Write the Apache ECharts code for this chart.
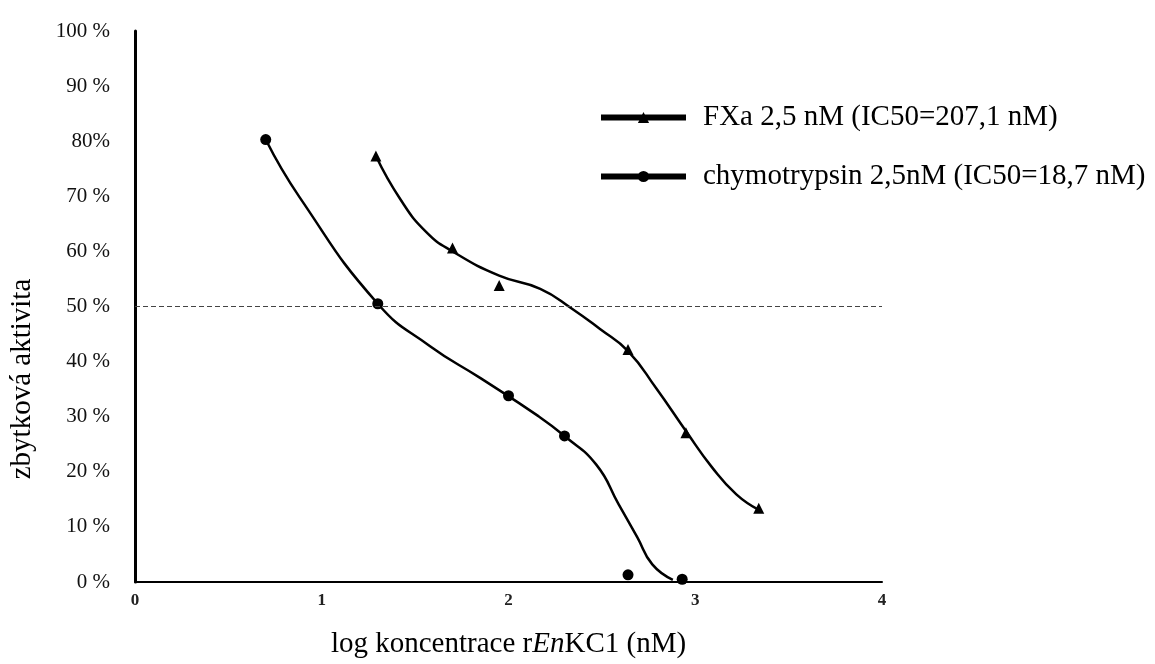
<!DOCTYPE html>
<html>
<head>
<meta charset="utf-8">
<script src="https://cdn.jsdelivr.net/npm/echarts@6/dist/echarts.min.js"></script>
<style>
  html, body { margin: 0; padding: 0; background: #fff; }
  #chart { width: 1155px; height: 664px; }
</style>
</head>
<body>
<div id="chart"></div>
<script>
// namerene body
const fxaX = [1.29, 1.70, 1.95, 2.64, 2.95, 3.34];
const fxaY = [77.3, 60.6, 53.8, 42.2, 27.1, 13.4];
const chymoX = [0.70, 1.30, 2.00, 2.30, 2.64, 2.93];
const chymoY = [80.3, 50.5, 33.8, 26.5, 1.3, 0.5];

// prolozene krivky
const fxaFitX = [1.29, 1.42, 1.56, 1.70, 1.95, 2.17, 2.34, 2.49, 2.64, 2.79, 2.95, 3.09, 3.22, 3.34];
const fxaFitY = [77.3, 69.5, 63.5, 60.0, 55.6, 53.2, 49.6, 45.9, 41.9, 35.2, 27.4, 20.8, 15.9, 13.1];
const chymoFitX = [0.70, 0.88, 1.30, 1.58, 1.85, 2.16, 2.30, 2.47, 2.59, 2.69, 2.77, 2.88];
const chymoFitY = [80.3, 69.9, 50.5, 42.8, 37.0, 30.1, 26.5, 21.3, 14.1, 8.1, 3.2, 0.4];

const seriesNames = ["FXa 2,5 nM (IC50=207,1 nM)", "chymotrypsin 2,5nM (IC50=18,7 nM)"];
const yTickLabels = ["0 %", "10 %", "20 %", "30 %", "40 %", "50 %", "60 %", "70 %", "80%", "90 %", "100 %"];
const xTickLabels = ["0", "1", "2", "3", "4"];
const halfLine = 50;

const zip = (xs, ys) => xs.map((x, i) => [x, ys[i]]);

let myChart = echarts.init(document.getElementById("chart"));
let serif = "Liberation Serif";
let option = {
  animation: false,
  grid: { left: 135, right: 273, top: 31, bottom: 79 },
  legend: {
    data: seriesNames,
    orient: "vertical",
    left: 593,
    top: 98,
    itemWidth: 85,
    itemHeight: 14,
    itemGap: 30,
    lineStyle: { width: 6, color: "#000" },
    itemStyle: { color: "#000" },
    textStyle: { fontFamily: serif, fontSize: 29, color: "#000", padding: [0, 0, 0, 12] }
  },
  xAxis: {
    type: "value",
    min: 0,
    max: 4,
    interval: 1,
    axisLine: { lineStyle: { color: "#000", width: 2 } },
    axisTick: { show: false },
    splitLine: { show: false },
    axisLabel: {
      margin: 10,
      fontFamily: "Liberation Sans Narrow",
      fontWeight: "bold",
      fontSize: 17,
      color: "#222",
      formatter: v => xTickLabels[v]
    },
    name: "{a|log koncentrace r}{i|En}{a|KC1 (nM)}",
    nameLocation: "middle",
    nameGap: 48,
    nameTextStyle: {
      rich: {
        a: { fontFamily: serif, fontSize: 29, color: "#000" },
        i: { fontFamily: serif, fontSize: 29, fontStyle: "italic", color: "#000" }
      }
    }
  },
  yAxis: {
    type: "value",
    min: 0,
    max: 100,
    interval: 10,
    axisLine: { show: true, lineStyle: { color: "#000", width: 3 } },
    axisTick: { show: false },
    splitLine: { show: false },
    axisLabel: {
      margin: 25,
      fontFamily: serif,
      fontSize: 21,
      color: "#111",
      formatter: v => yTickLabels[Math.round(v / 10)]
    }
  },
  graphic: [
    {
      type: "text",
      x: 22,
      y: 379,
      rotation: Math.PI / 2,
      style: {
        text: "zbytková aktivita",
        fontFamily: serif,
        fontSize: 29,
        fill: "#000",
        align: "center",
        verticalAlign: "middle"
      }
    }
  ],
  series: [
    {
      name: seriesNames[0],
      type: "line",
      smooth: 0.5,
      symbol: "triangle",
      showSymbol: false,
      symbolSize: 11,
      lineStyle: { color: "#000", width: 2.5 },
      itemStyle: { color: "#000" },
      data: zip(fxaFitX, fxaFitY),
      markLine: {
        silent: true,
        symbol: "none",
        label: { show: false },
        lineStyle: { color: "#444", type: [5, 3], width: 1.2 },
        data: [{ yAxis: halfLine }]
      }
    },
    {
      name: seriesNames[1],
      type: "line",
      smooth: 0.5,
      symbol: "circle",
      showSymbol: false,
      symbolSize: 11,
      lineStyle: { color: "#000", width: 2.5 },
      itemStyle: { color: "#000" },
      data: zip(chymoFitX, chymoFitY)
    },
    {
      name: "FXa body",
      type: "scatter",
      symbol: "triangle",
      symbolSize: 11,
      itemStyle: { color: "#000", opacity: 1 },
      data: zip(fxaX, fxaY)
    },
    {
      name: "chymotrypsin body",
      type: "scatter",
      symbol: "circle",
      symbolSize: 11,
      itemStyle: { color: "#000", opacity: 1 },
      data: zip(chymoX, chymoY)
    }
  ]
};
myChart.setOption(option);
</script>
</body>
</html>
